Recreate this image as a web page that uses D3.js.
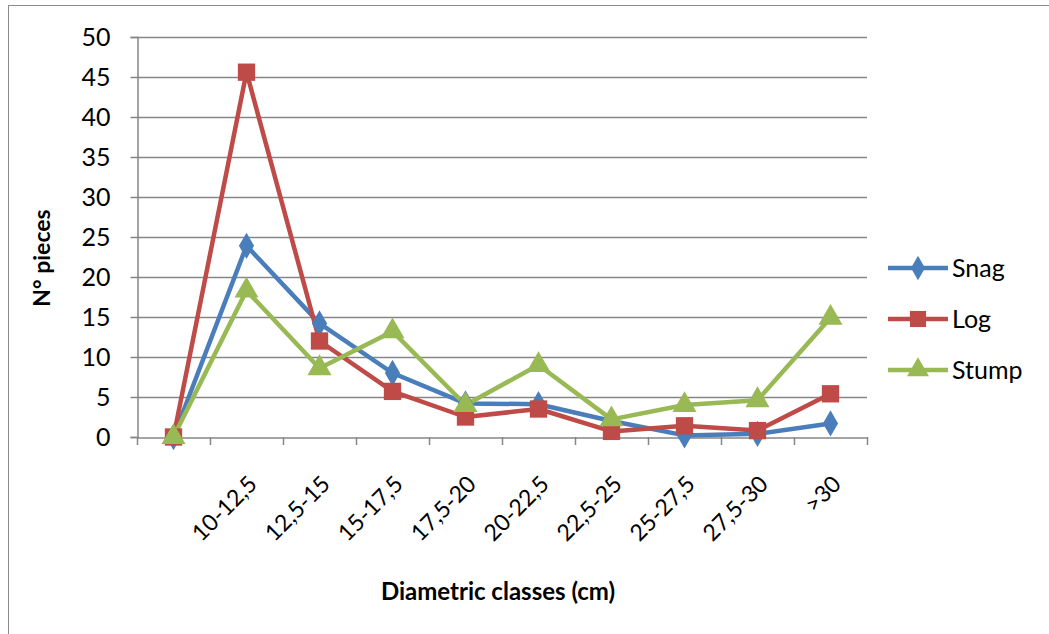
<!DOCTYPE html>
<html><head><meta charset="utf-8">
<script src="https://cdn.jsdelivr.net/npm/d3@7"></script>
<style>body{margin:0;background:#fff;} svg{display:block;}</style>
</head><body>
<svg id="c" width="1049" height="634"></svg>
<script>
const categories = ["", "10-12,5", "12,5-15", "15-17,5", "17,5-20", "20-22,5", "22,5-25", "25-27,5", "27,5-30", ">30"];
const snag  = [0, 23.9, 14.2, 8.0, 4.2, 4.1, 2.0, 0.2, 0.4, 1.7];
const log   = [0, 45.6, 12.0, 5.7, 2.5, 3.5, 0.7, 1.4, 0.8, 5.4];
const stump = [0, 18.3, 8.6, 13.2, 4.0, 9.0, 2.2, 4.0, 4.6, 14.9];
const yTicks = [0, 5, 10, 15, 20, 25, 30, 35, 40, 45, 50];
const seriesNames = ["Snag", "Log", "Stump"];
const colors = ["#4A7EBB", "#BE4B48", "#98B954"];
const symbols = [d3.symbolDiamond, d3.symbolSquare, d3.symbolTriangle];
const data = [snag, log, stump];

const svg = d3.select("#c");
const font = "Lato, 'Open Sans', sans-serif";
svg.append("rect").attr("x", 8.5).attr("y", 5.5).attr("width", 1060).attr("height", 660)
  .attr("fill", "none").attr("stroke", "#8c8c8c").attr("stroke-width", 1);

const L = 137, R = 867, T = 37, B = 437;
const x = d3.scaleBand().domain(d3.range(categories.length)).range([L, R]);
const y = d3.scaleLinear().domain([0, 50]).range([B, T]);

// gridlines
svg.append("g").selectAll("line").data(yTicks.filter(t => t > 0)).join("line")
  .attr("x1", L).attr("x2", R).attr("y1", d => y(d) + 0.5).attr("y2", d => y(d) + 0.5)
  .attr("stroke", "#868686").attr("stroke-width", 1.5);

// y axis
const ya = svg.append("g").attr("transform", `translate(${L + 0.5},0)`)
  .call(d3.axisLeft(y).tickValues(yTicks).tickSize(7).tickPadding(20));
ya.select(".domain").attr("stroke", "#868686").attr("stroke-width", 1.5);
ya.selectAll(".tick line").attr("stroke", "#868686").attr("stroke-width", 1.5);
ya.selectAll(".tick text").attr("font-family", font).attr("font-size", 25).attr("fill", "#000");

// x axis
const xa = svg.append("g").attr("transform", `translate(0,${B + 0.5})`)
  .call(d3.axisBottom(x).tickFormat(i => categories[i]).tickSize(0).tickPadding(0));
xa.select(".domain").attr("stroke", "#868686").attr("stroke-width", 1.5);
xa.selectAll(".tick text").attr("font-family", font).attr("font-size", 23).attr("fill", "#000")
  .attr("text-anchor", "end").attr("dy", 0)
  .attr("transform", "translate(12,48) rotate(-45)");
// category boundary ticks
const bounds = d3.range(categories.length + 1).map(i => i < categories.length ? x(i) : x(categories.length - 1) + x.bandwidth());
svg.append("g").selectAll("line").data(bounds).join("line")
  .attr("x1", d => d + 0.5).attr("x2", d => d + 0.5).attr("y1", B).attr("y2", B + 8)
  .attr("stroke", "#868686").attr("stroke-width", 1.5);

// lines & markers
const line = d3.line().x((d, i) => x(i) + x.bandwidth() / 2).y(d => y(d));
data.forEach((s, k) => {
  svg.append("path").datum(s).attr("d", line).attr("fill", "none")
    .attr("stroke", colors[k]).attr("stroke-width", 4.5).attr("stroke-linejoin", "round");
});
data.forEach((s, k) => {
  const size = k === 0 ? 200 : (k === 1 ? 300 : 250);
  svg.append("g").selectAll("path").data(s).join("path")
    .attr("transform", (d, i) => `translate(${x(i) + x.bandwidth() / 2},${y(d)})`)
    .attr("d", d3.symbol().type(symbols[k]).size(size))
    .attr("fill", colors[k]);
});

// legend
const lg = svg.append("g");
seriesNames.forEach((n, k) => {
  const yy = 268 + k * 51;
  lg.append("line").attr("x1", 888).attr("x2", 948).attr("y1", yy).attr("y2", yy)
    .attr("stroke", colors[k]).attr("stroke-width", 4.5);
  const size = k === 0 ? 170 : (k === 1 ? 260 : 210);
  lg.append("path").attr("transform", `translate(918,${yy})`)
    .attr("d", d3.symbol().type(symbols[k]).size(size)).attr("fill", colors[k]);
  lg.append("text").attr("x", 952).attr("y", yy).attr("dy", "0.35em")
    .attr("font-family", font).attr("font-size", 25).text(n);
});

// titles
svg.append("text").attr("x", 498).attr("y", 600).attr("text-anchor", "middle")
  .attr("font-family", font).attr("font-size", 24).attr("font-weight", "bold").text("Diametric classes (cm)");
svg.append("text").attr("transform", "translate(50,258) rotate(-90)").attr("text-anchor", "middle")
  .attr("font-family", font).attr("font-size", 23).attr("font-weight", "bold").text("N° pieces");
</script>
</body></html>
